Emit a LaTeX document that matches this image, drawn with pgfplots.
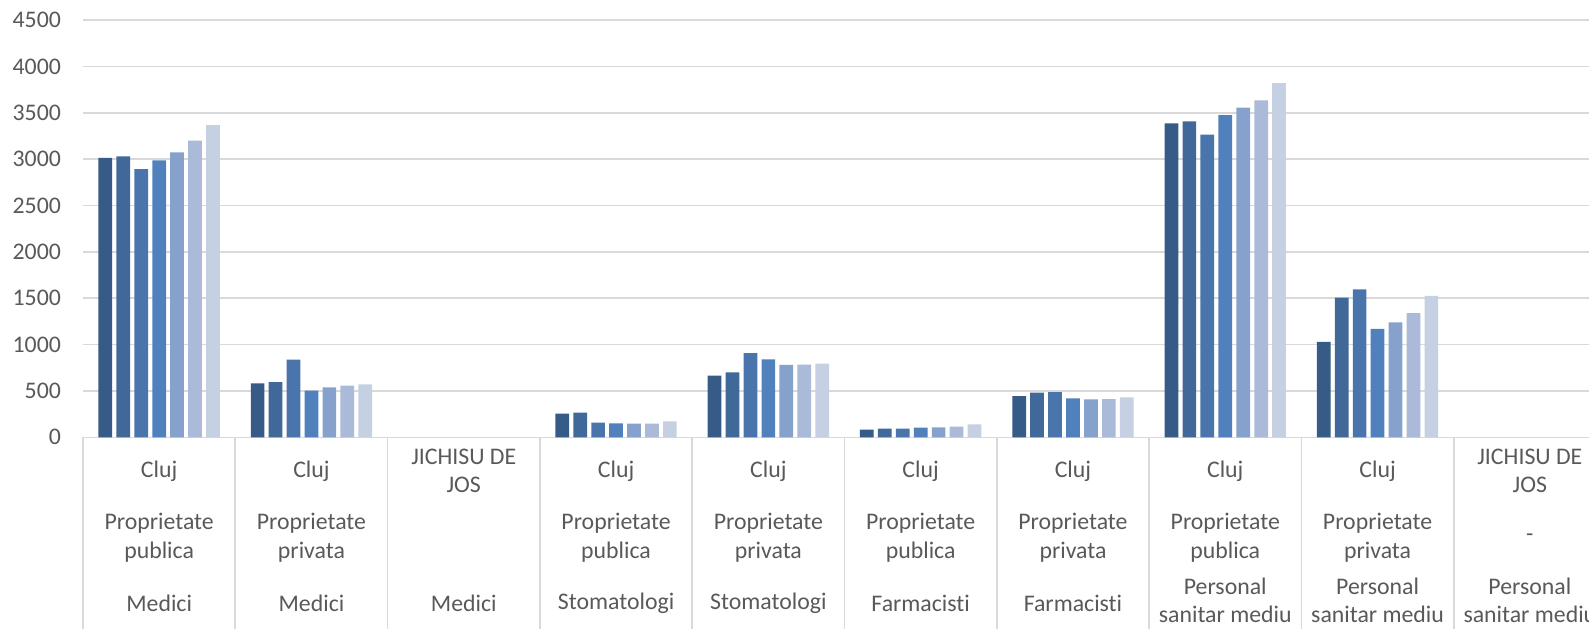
\documentclass[border=0pt]{standalone}
\usepackage{pgfplots}
\pgfplotsset{compat=1.18}
\usepackage{pgfplotstable}
\usepackage{fontspec}
\setmainfont{Carlito}[Ligatures=NoCommon]
\definecolor{c1}{RGB}{54,91,135}
\definecolor{c2}{RGB}{64,105,153}
\definecolor{c3}{RGB}{73,117,172}
\definecolor{c4}{RGB}{80,129,189}
\definecolor{c5}{RGB}{134,162,204}
\definecolor{c6}{RGB}{170,186,216}
\definecolor{c7}{RGB}{197,208,227}
\definecolor{gridc}{RGB}{217,217,217}
\definecolor{txt}{RGB}{89,89,89}
\pgfplotstableread{
x s1 s2 s3 s4 s5 s6 s7
0 3012 3030 2893 2987 3073 3198 3367
1 582 596 837 503 539 557 571
3 256 266 159 151 148 148 173
4 665 701 909 841 780 784 794
5 83 94 94 105 108 115 140
6 445 482 488 420 410 413 431
7 3386 3407 3263 3475 3554 3634 3820
8 1028 1505 1596 1168 1240 1340 1524
}\data
\begin{document}
\begin{tikzpicture}[font=\fontsize{11.9}{14.3}\selectfont]
\useasboundingbox (0,0) rectangle (794.5pt,314pt);
\clip (0,0) rectangle (794.5pt,314pt);
\begin{axis}[
  at={(41.5pt,95.35pt)}, anchor=south west,
  width=761.5pt, height=208.65pt, scale only axis,
  xmin=-0.5, xmax=9.5, ymin=0, ymax=4500,
  ytick={0,500,...,4500}, xtick=\empty,
  ymajorgrids, grid style={gridc, line width=0.8pt},
  axis line style={draw=none},
  ytick style={draw=none},
  tick label style={font=\fontsize{11.9}{14}\selectfont},
  yticklabel style={text=txt, xshift=-7.5pt},
  /pgf/number format/assume math mode=true,
  /pgf/number format/1000 sep={},
  ybar=2.12pt, bar width=6.85pt,
  clip=false,
]
\addplot[fill=c1, draw=none] table[x=x,y=s1]{\data};
\addplot[fill=c2, draw=none] table[x=x,y=s2]{\data};
\addplot[fill=c3, draw=none] table[x=x,y=s3]{\data};
\addplot[fill=c4, draw=none] table[x=x,y=s4]{\data};
\addplot[fill=c5, draw=none] table[x=x,y=s5]{\data};
\addplot[fill=c6, draw=none] table[x=x,y=s6]{\data};
\addplot[fill=c7, draw=none] table[x=x,y=s7]{\data};
\pgfplotsinvokeforeach{-0.5,0.5,1.5,2.5,3.5,4.5,5.5,6.5,7.5,8.5,9.5}{
  \draw[gridc, line width=0.85pt] (axis cs:#1,0) -- ++(0pt,-100pt);
}
\begin{scope}[every node/.style={text=txt, align=center, anchor=center}]
% row 1
\node[yshift=-16.85pt] at (axis cs:0,0) {Cluj};
\node[yshift=-16.85pt] at (axis cs:1,0) {Cluj};
\node[yshift=-16.85pt] at (axis cs:2,0) {JICHISU DE\\JOS};
\node[yshift=-16.85pt] at (axis cs:3,0) {Cluj};
\node[yshift=-16.85pt] at (axis cs:4,0) {Cluj};
\node[yshift=-16.85pt] at (axis cs:5,0) {Cluj};
\node[yshift=-16.85pt] at (axis cs:6,0) {Cluj};
\node[yshift=-16.85pt] at (axis cs:7,0) {Cluj};
\node[yshift=-16.85pt] at (axis cs:8,0) {Cluj};
\node[yshift=-16.85pt] at (axis cs:9,0) {JICHISU DE\\JOS};
% row 2
\node[yshift=-50.1pt] at (axis cs:0,0) {Proprietate\\publica};
\node[yshift=-50.1pt] at (axis cs:1,0) {Proprietate\\privata};
\node[yshift=-50.1pt] at (axis cs:3,0) {Proprietate\\publica};
\node[yshift=-50.1pt] at (axis cs:4,0) {Proprietate\\privata};
\node[yshift=-50.1pt] at (axis cs:5,0) {Proprietate\\publica};
\node[yshift=-50.1pt] at (axis cs:6,0) {Proprietate\\privata};
\node[yshift=-50.1pt] at (axis cs:7,0) {Proprietate\\publica};
\node[yshift=-50.1pt] at (axis cs:8,0) {Proprietate\\privata};
\node[yshift=-50.1pt] at (axis cs:9,0) {-};
% row 3
\node[yshift=-82.85pt] at (axis cs:0,0) {Medici};
\node[yshift=-82.85pt] at (axis cs:1,0) {Medici};
\node[yshift=-82.85pt] at (axis cs:2,0) {Medici};
\node[yshift=-82.85pt] at (axis cs:3,0) {Stomatologi};
\node[yshift=-82.85pt] at (axis cs:4,0) {Stomatologi};
\node[yshift=-82.85pt] at (axis cs:5,0) {Farmacisti};
\node[yshift=-82.85pt] at (axis cs:6,0) {Farmacisti};
\node[yshift=-81.6pt, inner ysep=1pt] at (axis cs:7,0) {Personal\\sanitar mediu};
\node[yshift=-81.6pt, inner ysep=1pt] at (axis cs:8,0) {Personal\\sanitar mediu};
\node[yshift=-81.6pt, inner ysep=1pt] at (axis cs:9,0) {Personal\\sanitar mediu};
\end{scope}
\end{axis}
\end{tikzpicture}
\end{document}
